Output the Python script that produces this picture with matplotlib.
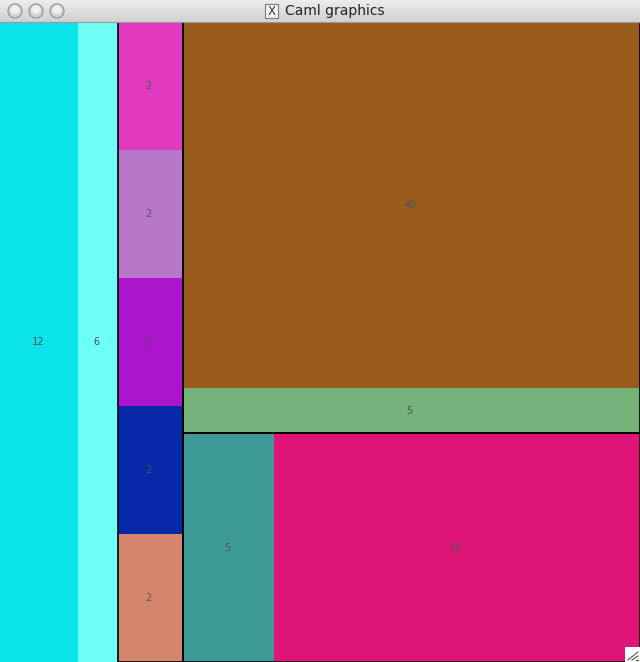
import matplotlib
matplotlib.use("Agg")
import matplotlib.pyplot as plt
from matplotlib.patches import Rectangle, Circle
import numpy as np

# ---- data ----
root_labels = ["12", "6", "G1", "G2"]
root_values = [12, 6, 10, 70]
root_colors = ["#0BE3EB", "#6CFFF8", None, None]

g1_values = [2, 2, 2, 2, 2]
g1_colors = ["#E03BBE", "#B877C9", "#AD15CC", "#0629AA", "#D5846E"]

g2_values = [45, 25]          # G3, G4
g3_values = [40, 5]
g3_colors = ["#995C1D", "#78B27B"]
g4_values = [5, 20]
g4_colors = ["#3D9A96", "#DE1577"]

W, H = 640, 662
TITLE_H = 22

fig = plt.figure(figsize=(W / 100, H / 100), dpi=100)
ax = fig.add_axes([0, 0, 1, 1])
ax.set_xlim(0, W)
ax.set_ylim(H, 0)
ax.axis("off")


def split(x, y, w, h, values, horizontal):
    tot = float(sum(values))
    rects = []
    off = 0.0
    for v in values:
        if horizontal:
            rw = w * v / tot
            rects.append((x + off, y, rw, h))
            off += rw
        else:
            rh = h * v / tot
            rects.append((x, y + off, w, rh))
            off += rh
    return rects


def leaf(r, color, value):
    x, y, w, h = r
    ax.add_patch(Rectangle((x, y), w, h, facecolor=color, edgecolor="none", lw=0))
    ax.text(x + w / 2 - 1.5, y + h / 2, str(value), ha="center", va="center",
            fontsize=7.5, family="DejaVu Sans Mono", color="#555555")


def border(r):
    x, y, w, h = r
    ax.add_patch(Rectangle((x, y), w, h, facecolor="none", edgecolor="black",
                           lw=1.2, zorder=5))


content = (0, TITLE_H, W, H - TITLE_H)
rr = split(*content, root_values, True)
leaf(rr[0], root_colors[0], root_values[0])
leaf(rr[1], root_colors[1], root_values[1])

# G1
for r, c, v in zip(split(*rr[2], g1_values, False), g1_colors, g1_values):
    leaf(r, c, v)
border(rr[2])

# G2
g2r = split(*rr[3], g2_values, False)
for r, c, v in zip(split(*g2r[0], g3_values, False), g3_colors, g3_values):
    leaf(r, c, v)
border(g2r[0])
for r, c, v in zip(split(*g2r[1], g4_values, True), g4_colors, g4_values):
    leaf(r, c, v)
border(g2r[1])

# ---- window title bar ----
grad = np.linspace(0, 1, 50).reshape(-1, 1)
ax.imshow(grad, extent=(0, W, TITLE_H, 0), cmap=matplotlib.colors.LinearSegmentedColormap.from_list(
    "tb", ["#EDEDED", "#D0D0D0"]), aspect="auto", zorder=6)
ax.plot([0, W], [TITLE_H - 0.5, TITLE_H - 0.5], color="#9A9A9A", lw=0.8, zorder=7)
for cx in [15, 36, 57]:
    ax.add_patch(Circle((cx, 11), 7, facecolor="#D4D4D4", edgecolor="#8C8C8C", lw=0.8, zorder=7))
    ax.add_patch(Circle((cx, 9.5), 4.5, facecolor="#EFEFEF", edgecolor="none", zorder=7))
ax.add_patch(Rectangle((265, 4), 13, 14, facecolor="#F4F4F4", edgecolor="#777777", lw=0.8, zorder=7))
ax.text(271.5, 11.5, "X", ha="center", va="center", fontsize=8.5, color="#333333", zorder=8)
ax.text(285, 11.5, "Caml graphics", ha="left", va="center", fontsize=10,
        family="DejaVu Sans", color="#222222", zorder=8)

# resize grip
ax.add_patch(Rectangle((625, 647), 15, 15, facecolor="white", edgecolor="none", zorder=7))
for d in [4, 8, 12]:
    ax.plot([640 - d, 638], [660, 662 - d + 2], color="#555555", lw=0.8, zorder=8)

fig.savefig("out.png", dpi=100)
